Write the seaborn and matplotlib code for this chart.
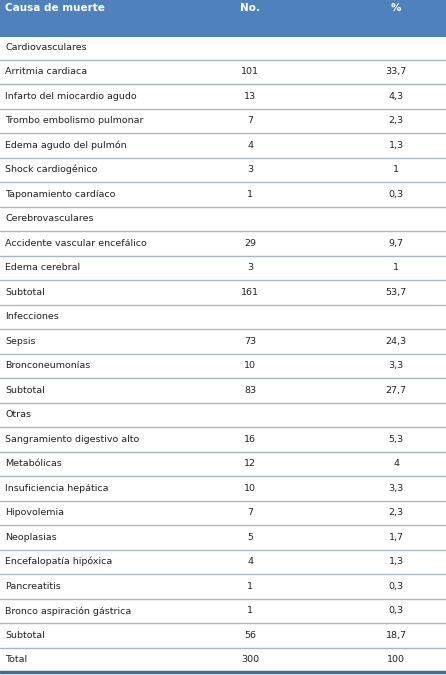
import matplotlib
matplotlib.use("Agg")
import matplotlib.pyplot as plt
import seaborn as sns

causes = [
    "Cardiovasculares", "Arritmia cardiaca", "Infarto del miocardio agudo",
    "Trombo embolismo pulmonar", "Edema agudo del pulmón", "Shock cardiogénico",
    "Taponamiento cardíaco", "Cerebrovasculares", "Accidente vascular encefálico",
    "Edema cerebral", "Subtotal", "Infecciones", "Sepsis", "Bronconeumonías",
    "Subtotal", "Otras", "Sangramiento digestivo alto", "Metabólicas",
    "Insuficiencia hepática", "Hipovolemia", "Neoplasias", "Encefalopatía hipóxica",
    "Pancreatitis", "Bronco aspiración gástrica", "Subtotal", "Total",
]
counts = ["", "101", "13", "7", "4", "3", "1", "", "29", "3", "161", "", "73", "10",
          "83", "", "16", "12", "10", "7", "5", "4", "1", "1", "56", "300"]
percents = ["", "33,7", "4,3", "2,3", "1,3", "1", "0,3", "", "9,7", "1", "53,7", "",
            "24,3", "3,3", "27,7", "", "5,3", "4", "3,3", "2,3", "1,7", "1,3", "0,3",
            "0,3", "18,7", "100"]
headers = ["Causa de muerte", "No.", "%"]

sns.set_theme(style="white")
plt.rcParams["font.family"] = ["DejaVu Sans"]

W, H = 446, 675
fig = plt.figure(figsize=(W / 100, H / 100), dpi=100)
ax = fig.add_axes([0, 0, 1, 1])
ax.set_xlim(0, W)
ax.set_ylim(H, 0)
ax.axis("off")

blue = "#4F81BD"
header_h = 37
ax.add_patch(plt.Rectangle((0, 0), W, header_h, color=blue, lw=0))
ax.text(5, 8, headers[0], color="white", fontsize=7.5, fontweight="bold", va="center")
ax.text(250, 8, headers[1], color="white", fontsize=7.5, fontweight="bold", va="center", ha="center")
ax.text(396, 8, headers[2], color="white", fontsize=7.5, fontweight="bold", va="center", ha="center")

first_top = 35
step = (672 - first_top) / len(causes)
for i, (c, n, p) in enumerate(zip(causes, counts, percents)):
    top = first_top + i * step
    yc = top + step / 2
    ax.text(5, yc, c, fontsize=6.8, va="center", color="#222222")
    ax.text(250, yc, n, fontsize=6.8, va="center", ha="center", color="#222222")
    ax.text(396, yc, p, fontsize=6.8, va="center", ha="center", color="#222222")
    if i > 0:
        ax.plot([0, W], [top, top], color="#aab6c2", lw=1.0)
ax.plot([0, W], [672, 672], color="#3d6f99", lw=2.5)

fig.savefig("out.png", dpi=100)
